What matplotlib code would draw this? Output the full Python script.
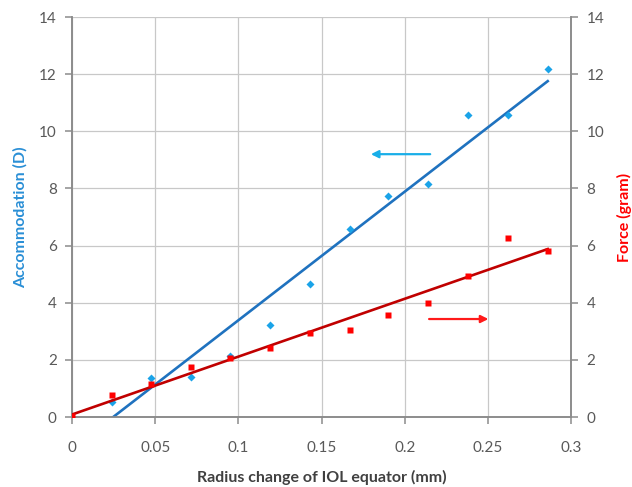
import matplotlib.pyplot as plt
import numpy as np
from matplotlib.ticker import FormatStrFormatter, MultipleLocator

plt.rcParams['font.family'] = ['Lato', 'DejaVu Sans']

# radius change of IOL equator (mm)
radius = [0, 0.0238, 0.0476, 0.0714, 0.0952, 0.119, 0.143,
          0.167, 0.190, 0.214, 0.238, 0.262, 0.286]
# accommodation (D)
accom = [0.0, 0.52, 1.36, 1.40, 2.13, 3.22, 4.66,
         6.58, 7.74, 8.16, 10.57, 10.57, 12.18]
# force (gram)
force = [0.02, 0.77, 1.15, 1.75, 2.07, 2.42, 2.94,
         3.05, 3.57, 3.99, 4.94, 6.27, 5.81]

x = np.array(radius)
blue_fit = np.polyfit(x, accom, 1)
red_fit = np.polyfit(x, force, 1)
xs = np.array([0, x[-1]])

fig = plt.figure(figsize=(6.32, 4.87), dpi=100)
ax = fig.add_axes([0.114, 0.1437, 0.7895, 0.8213])
ax2 = ax.twinx()

grid_c = '#c8c8c8'
ax.grid(True, color=grid_c, linewidth=0.9)
ax.set_axisbelow(True)

ax.plot(xs, np.polyval(blue_fit, xs), color='#1f72bf', lw=1.9, zorder=3)
ax.plot(x, accom, 'D', color='#1aa3e8', ms=4, mec='none', zorder=4)
ax2.plot(xs, np.polyval(red_fit, xs), color='#c00000', lw=1.9, zorder=3)
ax2.plot(x, force, 's', color='#ff0000', ms=4.5, mec='none', zorder=4)

# arrows pointing to each series' axis
ax.annotate('', xy=(0.178, 9.2), xytext=(0.217, 9.2),
            arrowprops=dict(arrowstyle='-|>', color='#19aee8', lw=1.6,
                            mutation_scale=11))
ax.annotate('', xy=(0.252, 3.43), xytext=(0.213, 3.43),
            arrowprops=dict(arrowstyle='-|>', color='#ff1a1a', lw=1.6,
                            mutation_scale=11))

for a in (ax, ax2):
    a.set_xlim(0, 0.3)
    a.set_ylim(0, 14)
    a.yaxis.set_major_locator(MultipleLocator(2))
    for s in a.spines.values():
        s.set_color('#8c8c8c')
        s.set_linewidth(1.2)
    a.spines['top'].set_visible(False)
    a.tick_params(colors='#8c8c8c', labelcolor='#595959', labelsize=11,
                  length=5, width=1.1)

ax.xaxis.set_major_locator(MultipleLocator(0.05))
ax.xaxis.set_major_formatter(FormatStrFormatter('%g'))
ax.tick_params(axis='x', pad=12)
ax.tick_params(axis='y', pad=6)
ax2.tick_params(axis='y', pad=6)

ax.set_xlabel('Radius change of IOL equator (mm)', fontsize=11.5,
              fontweight='bold', color='#404040', labelpad=11)
ax.set_ylabel('Accommodation (D)', fontsize=11.5, fontweight='bold',
              color='#2a8fd6', labelpad=8)
ax2.set_ylabel('Force (gram)', fontsize=11.5, fontweight='bold',
               color='#ff0000', labelpad=9)

fig.savefig('out.png', dpi=100)
